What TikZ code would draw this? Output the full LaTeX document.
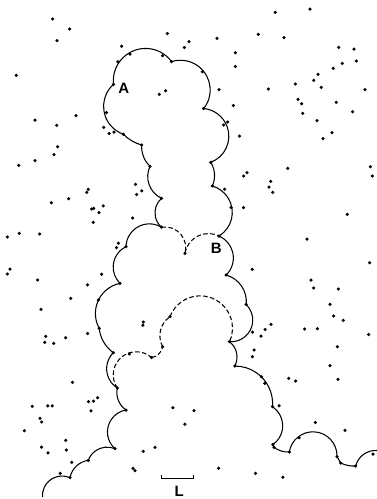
\documentclass[tikz,border=0pt]{standalone}
\usepackage{fontspec}
\setmainfont{Liberation Sans}
\usetikzlibrary{calc}
\newcommand\carc[4][]{\draw[#1] let \p1=(#2), \p2=(#3),
  \n1={atan2(\y2-\y1,\x2-\x1)}, \n2={veclen(\x2-\x1,\y2-\y1)},
  \n5={(#4)/abs(#4)},
  \n3={\n1-(#4)/2-90*\n5}, \n4={\n2/(2*abs(sin((#4)/2)))}
  in (#2) arc[start angle=\n3, delta angle=#4, radius=\n4];}
\tikzset{
  outl/.style={line width=1.05pt},
  dsh/.style={line width=1.05pt, dash pattern=on 4.5pt off 2.5pt},
  lab/.style={font=\fontsize{15}{15}\selectfont\bfseries, inner sep=0pt},
  dotc/.style={fill=black}
}
\begin{document}
\begin{tikzpicture}[x=1pt,y=-1pt]
\useasboundingbox (0,0) rectangle (376,499);
% outline points
\coordinate (c1) at (377,450.5);
\coordinate (c2) at (355.7,466);
\coordinate (c3) at (340.7,463);
\coordinate (c4) at (337,456.7);
\coordinate (c5) at (289.3,452);
\coordinate (c6) at (274,447.3);
\coordinate (c6b) at (272.8,444.5);
\coordinate (c7) at (272.5,406.7);
\coordinate (c8) at (234.8,366);
\coordinate (c9) at (229.5,341.7);
\coordinate (c10) at (246.2,304.5);
\coordinate (c11) at (226.2,275);
\coordinate (c12) at (219,236);
\coordinate (c13) at (212.3,186);
\coordinate (c14) at (210.7,162.3);
\coordinate (c15) at (203.7,108.5);
\coordinate (c16) at (171.6,61.6);
\coordinate (c17) at (113.5,84.3);
\coordinate (c17b) at (123.3,134.2);
\coordinate (c18) at (141.7,145);
\coordinate (c19) at (150,166.3);
\coordinate (c20) at (161.5,198.3);
\coordinate (c21) at (161.5,227.2);
\coordinate (c22) at (126,246.7);
\coordinate (c23) at (120,283.3);
\coordinate (c24) at (99.2,328.3);
\coordinate (c25) at (113.3,352.7);
\coordinate (c26) at (117.3,388);
\coordinate (c27) at (126,410);
\coordinate (c28) at (115,448.7);
\coordinate (c29) at (88.3,460.3);
\coordinate (c30) at (70,477.7);
\coordinate (c31) at (42.5,497);
\coordinate (d1) at (185,253.3);
\coordinate (d2) at (151.7,357.5);
\coordinate (d3) at (162.7,346.7);
\coordinate (d4) at (170,316.7);
% solid outline
\carc[outl]{c1}{c2}{80}
\carc[outl]{c2}{c3}{-30}
\draw[outl] (c3) -- (c4);
\carc[outl]{c4}{c5}{173}
\carc[outl]{c5}{c6}{-40}
\draw[outl] (c6) -- (c6b);
\carc[outl]{c6b}{c7}{112}
\carc[outl]{c7}{c8}{95}
\carc[outl]{c8}{c9}{80}
\carc[outl]{c9}{c10}{140}
\carc[outl]{c10}{c11}{80}
\carc[outl]{c11}{c12}{112}
\carc[outl]{c12}{c13}{133}
\carc[outl]{c13}{c14}{57}
\carc[outl]{c14}{c15}{154}
\carc[outl]{c15}{c16}{146}
\carc[outl]{c16}{c17}{150}
\carc[outl]{c17}{c17b}{119}
\carc[outl]{c17b}{c18}{30}
\carc[outl]{c18}{c19}{50}
\carc[outl]{c19}{c20}{90}
\carc[outl]{c20}{c21}{97}
\carc[outl]{c21}{c22}{120}
\carc[outl]{c22}{c23}{110}
\carc[outl]{c23}{c24}{107}
\carc[outl]{c24}{c25}{48}
\carc[outl]{c25}{c26}{103}
\carc[outl]{c26}{c27}{67}
\carc[outl]{c27}{c28}{129}
\carc[outl]{c28}{c29}{93}
\carc[outl]{c29}{c30}{71}
\carc[outl]{c30}{c31}{118}
% dashed
\carc[dsh]{c21}{d1}{-115}
\carc[dsh]{d1}{c12}{-106}
\carc[dsh]{c26}{d2}{-166}
\carc[dsh]{d2}{d3}{70}
\carc[dsh]{d3}{d4}{-85}
\carc[dsh]{d4}{c9}{-184}
% dots on outline
\foreach \c in {c2,c3,c4,c5,c6,c6b,c7,c8,c9,c10,c11,c12,c13,c14,c15,c16,c17,c17b,c18,c19,c20,c21,c22,c23,c24,c25,c26,c27,c28,c29,c30,d1,d2,d3,d4}
  \fill[dotc] (\c) circle[radius=1.75pt];
\foreach \p in {(373,454),(299.2,437.7),(264.7,383.3),(261.3,376.7),(231.2,207.5),(223.7,125),(202.3,71.7),(162.7,55.7),(130,54),(117.8,61.7),(106.5,112.5),(114,132),(98.3,300),(129.3,354)}
  \fill[dotc] \p circle[radius=1.75pt];
% scattered dots
\foreach \p in {
(52.7,19),(69.7,29),(57,40.7),(167.3,33.5),(121.7,46.2),(184.3,47.5),(189,41.7),(16.3,75.3),(159.3,94.3),(165.7,90.7),(35,120),(76,115.7),(56.7,125.3),(103.7,127.3),(109.2,133.5),(57.7,146.7),(54,154.7),(35,160.7),(18.7,165.3),
(275.3,12.3),(310,9),(217,38.3),(258.3,34.3),(284,37.7),(235.3,52.7),(235.3,66.5),(338.7,47.3),(354,49),(342.3,63.3),(356.3,61),(333.3,68.3),(318,74.3),(313.7,80.3),(295.3,84),(321.3,87.3),(219,89.7),(268.3,89),(365,89.7),(298,99.3),(301.7,103.7),(336.3,102.3),(302.7,113.3),(233.3,105.5),(352.7,111.7),(227.7,122),(239.5,136.2),(317,120.7),(332,132.7),(323,138.7),(287.7,168.3),(370.3,166.7),
(372.3,176),(247,172.7),(243.7,176),(270.7,181.3),(269,187),(272.7,192.3),(224.7,189.2),(243.5,207.5),(347.3,214.3),(307,239),(369.7,262.7),(252.3,269.3),(311,280),(313.7,288),(338.3,289),(330,304.3),(333.7,316),(343.3,320.3),(252.5,332),(261,336),(265.2,329.5),(271,324.3),(304.7,329),(317.3,328.7),(368.7,334.5),(254.2,350),(252.3,356.7),(337.3,346.7),(330,365.7),(338,379.3),(288.7,378.3),(295.7,381),(279.2,405.7),(315.3,422.5),(345,430.3),(194,410.5),(218.7,468.2),(255.5,473.3),(282.8,477.2),
(88.3,189.3),(86.7,192.3),(135.5,184.3),(141.7,190.8),(136.7,194.5),(51.3,202.7),(68.7,198.7),(91.7,209),(93.7,208.3),(103.3,205.8),(99,212.5),(93.3,222.3),(132.7,218),(7.3,237),(19.3,233.3),(39.7,234),(118.3,243.2),(116.5,247.5),(10,269),(7.3,274),(37.7,280),(101.7,274.2),(87.5,284.8),(70.7,298.3),(41,309.3),(143.3,322),(142.8,325.2),(87.7,333.5),(45.7,336.3),(44.7,342.3),(53.7,343.3),(65.7,337.7),(72.5,382.3),(32.3,406.3),(47.8,405.8),(52.3,405.8),(88.5,401.7),(93.5,401),(97.7,397.7),(91,410.8),(40,418.3),(41.7,422),(24.3,430.7),(65.7,440.3),(41.5,447.2),(48,452.8),(66.3,450),(71.7,462.3),(60.2,473.3),(133,468.3),(135,470.5),(143.2,451.3),(155,447.3),(172.8,407.7),(184.8,424.2)}
  \fill[dotc] \p circle[radius=1.75pt];
% labels
\node[lab] (A) at (123.8,88.3) {A};
\node[lab] (B) at (216.3,248.8) {B};
% scale bar
\coordinate (s1) at (161.8,475);
\coordinate (s2) at (161.8,478.3);
\coordinate (s3) at (193.3,478.3);
\coordinate (s4) at (193.3,475);
\draw[line width=1.05pt] (s1) -- (s2) -- (s3) -- (s4);
\node[lab] (L) at (179.2,491) {L};
\end{tikzpicture}
\end{document}
